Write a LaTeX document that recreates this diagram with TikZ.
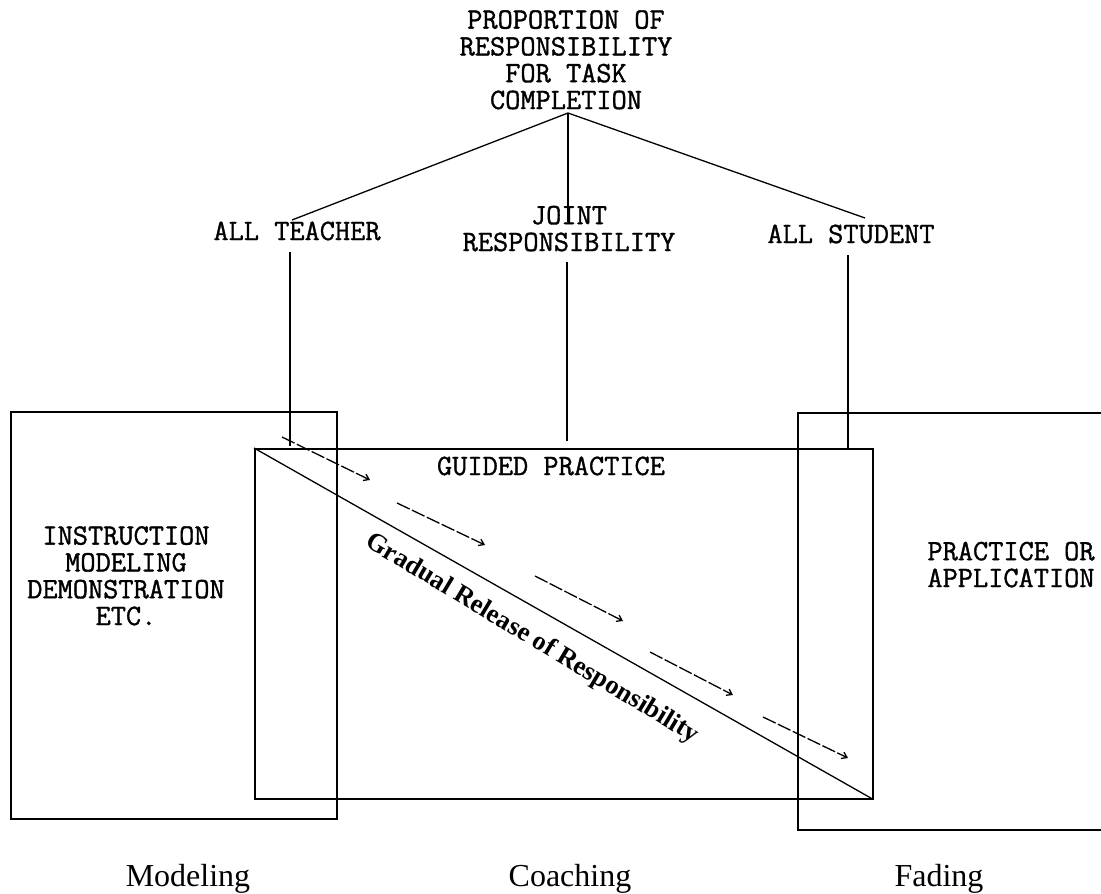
\documentclass[tikz,border=0pt]{standalone}
\usepackage{fontspec}
\setmainfont{Liberation Serif}
\newfontfamily\capsfont[FakeBold=1.2]{Latin Modern Mono}
\usetikzlibrary{arrows.meta}
\begin{document}
\begin{tikzpicture}[x=1pt,y=-1pt,
  boxline/.style={draw=black,line width=1.6pt,rectangle,inner sep=0pt,anchor=north west},
  link/.style={draw=black,line width=1.5pt},
  slant/.style={draw=black,line width=1.3pt},
  caps/.style={font=\capsfont\fontsize{29.5}{26.8}\selectfont,inner sep=0pt,align=center,anchor=base},
  phase/.style={font=\fontsize{32}{34}\selectfont,inner sep=0pt,anchor=base},
  shiftarrow/.style={draw=black,line width=1.3pt,dash pattern=on 14pt off 2.5pt,
    -{Straight Barb[length=5pt,width=7pt]}},
  release/.style={font=\bfseries\fontsize{26.5}{28}\selectfont,inner sep=0pt,rotate=-31}]
\useasboundingbox (0,0) rectangle (1101,894);
\clip (0,0) rectangle (1101,894);

% the three phase boxes
\node[boxline,minimum width=326pt,minimum height=407pt] (modelbox) at (10,411) {};
\node[boxline,minimum width=618pt,minimum height=350pt] (guidebox) at (254,448) {};
\node[boxline,minimum width=330pt,minimum height=417pt] (applybox) at (797,412) {};

% heading and responsibility levels (anchored at the last line's baseline)
\node[caps] (title) at (566,109) {PROPORTION OF\\RESPONSIBILITY\\FOR TASK\\COMPLETION};
\coordinate (apex) at (568,113);
\node[caps] (teacher) at (297,240) {ALL TEACHER};
\node[caps] (joint) at (569,251) {JOINT\\RESPONSIBILITY};
\node[caps] (student) at (851,243) {ALL STUDENT};

% box labels
\node[caps] (guided) at (551,475) {GUIDED PRACTICE};
\node[caps] (instr) at (126,625) {INSTRUCTION\\MODELING\\DEMONSTRATION\\ETC.};
\node[caps] (practice) at (1011,587) {PRACTICE OR\\APPLICATION};

% phase names
\node[phase] (modeling) at (188,886) {Modeling};
\node[phase] (coaching) at (570,886) {Coaching};
\node[phase] (fading) at (939,886) {Fading};

% branches from the heading
\coordinate (teacherend) at (292,220);
\coordinate (studentend) at (865,218);
\coordinate (jointend) at (568,222);
\draw[slant] (apex) -- (teacherend);
\draw[slant] (apex) -- (studentend);
\draw[link] (apex) -- (jointend);

% stems down to the boxes
\coordinate (teacherstem) at (290,252);
\coordinate (teacherfoot) at (290,446);
\coordinate (jointstem) at (567,262);
\coordinate (jointfoot) at (567,441);
\coordinate (studentstem) at (848,255);
\coordinate (studentfoot) at (848,448);
\draw[link] (teacherstem) -- (teacherfoot);
\draw[link] (jointstem) -- (jointfoot);
\draw[link] (studentstem) -- (studentfoot);

% diagonal split of guided practice
\draw[slant] (guidebox.north west) -- (guidebox.south east);

% shift of responsibility
\coordinate (a1) at (282,437); \coordinate (b1) at (370,480);
\coordinate (a2) at (397,503); \coordinate (b2) at (485,545);
\coordinate (a3) at (535,576); \coordinate (b3) at (623,621);
\coordinate (a4) at (650,652); \coordinate (b4) at (733,695);
\coordinate (a5) at (763,717); \coordinate (b5) at (848,758);
\draw[shiftarrow] (a1) -- (b1);
\draw[shiftarrow] (a2) -- (b2);
\draw[shiftarrow] (a3) -- (b3);
\draw[shiftarrow] (a4) -- (b4);
\draw[shiftarrow] (a5) -- (b5);

\node[release] (releasetext) at (532,639) {Gradual Release of Responsibility};
\end{tikzpicture}
\end{document}
